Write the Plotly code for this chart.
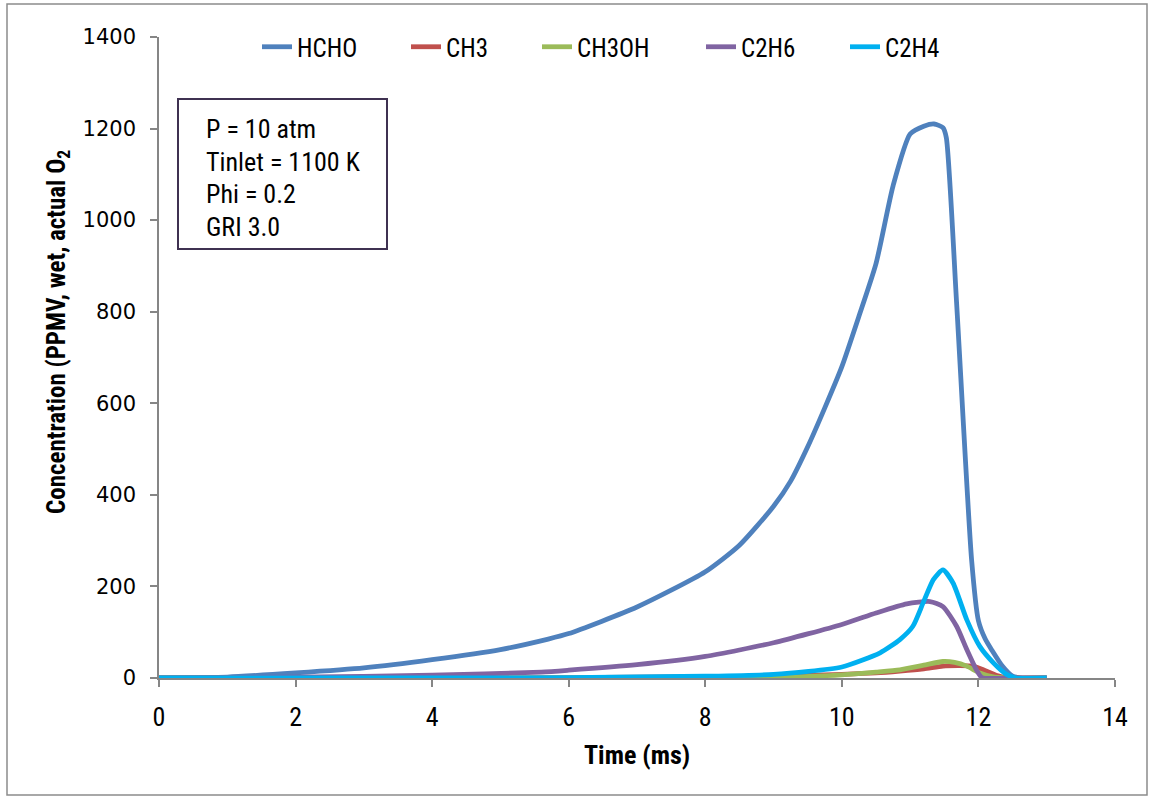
import plotly.graph_objects as go

# ---------------- data ----------------
HCHO_t = [0, 1, 2, 3, 4, 5, 5.7, 6, 7, 8, 8.5, 9, 9.25, 9.5, 9.75, 10, 10.25, 10.5,
          10.75, 11, 11.2, 11.35, 11.48, 11.53, 11.68, 11.9, 12.0, 12.1, 12.2, 12.35,
          12.5, 12.6, 13]
HCHO = [0, 2, 11, 22, 40, 62, 85, 97, 155, 232, 290, 375, 430, 505, 590, 680, 790, 905,
        1075, 1188, 1205, 1210, 1202, 1180, 820, 258, 125, 85, 60, 26, 4, 1, 0]

CH3_t = [0, 4, 6, 8, 9, 10, 10.5, 10.85, 11.2, 11.48, 11.7, 11.92, 12.07, 12.26, 12.45, 13]
CH3 = [0, 0, 1, 3, 4, 8, 11, 15, 20, 26, 27, 26, 18, 6, 0, 0]

CH3OH_t = [0, 6, 8, 8.7, 9, 10, 10.5, 10.85, 11.2, 11.48, 11.65, 11.83, 12.02, 12.2, 12.4, 13]
CH3OH = [0, 0, 0, 0, 1, 7, 13, 18, 28, 36, 34, 26, 11, 3, 0, 0]

C2H6_t = [0, 2, 4, 5.6, 6, 7, 8, 9, 10, 10.5, 10.95, 11.29, 11.48, 11.68, 11.83, 11.97,
          12.05, 12.5, 13]
C2H6 = [0, 2, 6, 13, 17, 29, 47, 77, 117, 142, 162, 167, 156, 113, 62, 18, 1, 0, 0]

C2H4_t = [0, 4, 6, 8, 9, 10, 10.56, 10.85, 11.04, 11.19, 11.34, 11.48, 11.63, 11.83,
          12.02, 12.22, 12.41, 12.55, 13]
C2H4 = [0, 0, 1, 4, 8, 24, 55, 84, 113, 164, 215, 236, 207, 127, 69, 33, 8, 0, 0]

SERIES_NAMES = ["HCHO", "CH3", "CH3OH", "C2H6", "C2H4"]
X_TICKS = [0, 2, 4, 6, 8, 10, 12, 14]
Y_TICKS = [0, 200, 400, 600, 800, 1000, 1200, 1400]
INFO_LINES = ["P = 10 atm", "Tinlet = 1100 K", "Phi = 0.2", "GRI 3.0"]

# ---------------- styling ----------------
COLORS = ["#4F81BD", "#C0504D", "#9BBB59", "#8064A2", "#00B0F0"]
NARROW = "Liberation Sans Narrow, Roboto Condensed, Arial Narrow, sans-serif"
W, H = 1151, 798
ML, MR, MT, MB = 159, 36, 37, 120
PW, PH = W - ML - MR, H - MT - MB


def xp(px):
    return (px - ML) / PW


def yp(py):
    return (H - MB - py) / PH


fig = go.Figure()
data = [(HCHO_t, HCHO), (CH3_t, CH3), (CH3OH_t, CH3OH), (C2H6_t, C2H6), (C2H4_t, C2H4)]
legend_ids = ["legend", "legend2", "legend3", "legend4", "legend5"]
for (t, v), name, col, lg in zip(data, SERIES_NAMES, COLORS, legend_ids):
    fig.add_trace(go.Scatter(
        x=t, y=v, name=name, mode="lines",
        line=dict(color=col, width=4.8, shape="spline", smoothing=0.6),
        legend=lg,
    ))

text_starts = [297, 446, 577, 741, 885]
legend_layout = {}
for lg, ts in zip(legend_ids, text_starts):
    legend_layout[lg] = dict(
        x=xp(ts - 40), y=yp(47), xanchor="left", yanchor="middle",
        orientation="h", bgcolor="rgba(0,0,0,0)", borderwidth=0,
        font=dict(family=NARROW, size=25, color="#000000"),
    )

annotations = []
centers = [129, 161.5, 194, 226.5]
for line, cy in zip(INFO_LINES, centers):
    annotations.append(dict(
        x=xp(204), y=yp(cy), xref="paper", yref="paper", text=line,
        showarrow=False, xanchor="left", yanchor="middle",
        font=dict(family=NARROW, size=26, color="#000000"),
    ))
annotations.append(dict(
    x=xp(58), y=yp(332), xref="paper", yref="paper",
    text="<b>Concentration (PPMV, wet, actual O<sub>2</sub></b>",
    textangle=-90, showarrow=False, xanchor="center", yanchor="middle",
    font=dict(family=NARROW, size=25, color="#000000"),
))
annotations.append(dict(
    x=xp(637), y=yp(755), xref="paper", yref="paper", text="<b>Time (ms)</b>",
    showarrow=False, xanchor="center", yanchor="middle",
    font=dict(family=NARROW, size=26, color="#000000"),
))

shapes = [
    dict(type="rect", xref="paper", yref="paper", x0=xp(178), x1=xp(387),
         y0=yp(249), y1=yp(99), line=dict(color="#3F3151", width=2), layer="above"),
    dict(type="rect", xref="paper", yref="paper", x0=xp(7), x1=xp(1147),
         y0=yp(795), y1=yp(4), line=dict(color="#8C8C8C", width=1.5), layer="below"),
]

fig.update_layout(
    width=W, height=H,
    margin=dict(l=ML, r=MR, t=MT, b=MB),
    paper_bgcolor="#FFFFFF", plot_bgcolor="#FFFFFF",
    showlegend=True,
    annotations=annotations, shapes=shapes,
    xaxis=dict(
        range=[0, 14], tickvals=X_TICKS, ticktext=[str(v) for v in X_TICKS],
        showgrid=False, zeroline=False, showline=True, linecolor="#868686", linewidth=1.5,
        ticks="outside", ticklen=7, tickcolor="#868686", tickwidth=1.5,
        tickfont=dict(family=NARROW, size=26, color="#000000"), ticklabelstandoff=8,
    ),
    yaxis=dict(
        range=[0, 1400], tickvals=Y_TICKS, ticktext=[str(v) for v in Y_TICKS],
        showgrid=False, zeroline=False, showline=True, linecolor="#868686", linewidth=1.5,
        ticks="outside", ticklen=7, tickcolor="#868686", tickwidth=1.5,
        tickfont=dict(family="DejaVu Sans", size=21, color="#000000"),
        ticklabelstandoff=10,
    ),
    **legend_layout,
)

fig.write_html(
    "out.html",
    config={"displayModeBar": False},
    post_script="document.body.style.margin='0';document.body.style.overflow='hidden';",
)
